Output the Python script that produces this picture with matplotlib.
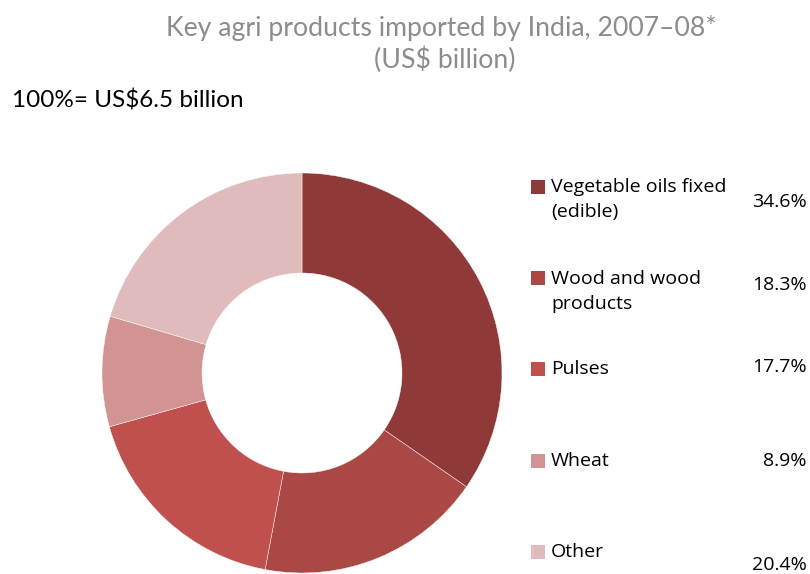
import matplotlib.pyplot as plt
from matplotlib.patches import Rectangle

# data
labels = ['Vegetable oils fixed\n(edible)', 'Wood and wood\nproducts', 'Pulses', 'Wheat', 'Other']
shares = [34.6, 18.3, 17.7, 8.9, 20.4]
pct_labels = ['34.6%', '18.3%', '17.7%', '8.9%', '20.4%']
colors = ['#8F3A38', '#AA4846', '#C0504D', '#D29393', '#E0BBBB']

W, H = 810, 574
fig = plt.figure(figsize=(W / 100, H / 100), dpi=100)
fig.patch.set_facecolor('white')

# donut
cx, cy, r = 302, 373, 200
ax = fig.add_axes([(cx - r) / W, (H - cy - r) / H, 2 * r / W, 2 * r / H])
ax.pie(shares, colors=colors, startangle=90, counterclock=False, radius=1,
       wedgeprops=dict(width=0.5, edgecolor='white', linewidth=0.3))
ax.set_xlim(-1, 1)
ax.set_ylim(-1, 1)
ax.set_aspect('equal')
ax.axis('off')

# titles
fig.text(441 / W, 1 - 28 / H, 'Key agri products imported by India, 2007\u201308*',
         ha='center', va='center', fontsize=19.2, color='#8C8C8C', family='Lato')
fig.text(445 / W, 1 - 60 / H, '(US$ billion)',
         ha='center', va='center', fontsize=19.2, color='#8C8C8C', family='Lato')
fig.text(12 / W, 1 - 101 / H, '100%= US$6.5 billion',
         ha='left', va='center', fontsize=17.5, color='black', family='Lato')

# legend
text_y = [200, 291, 369, 461, 552]
pct_y = [202, 285, 367, 461, 565]
for lab, col, ty, pct, py in zip(labels, colors, text_y, pct_labels, pct_y):
    first_line_y = ty - 13 if '\n' in lab else ty
    fig.patches.append(Rectangle((531 / W, 1 - (first_line_y + 7) / H), 14 / W, 14 / H,
                                 transform=fig.transFigure, facecolor=col, edgecolor='none'))
    fig.text(551 / W, 1 - ty / H, lab, ha='left', va='center', fontsize=14,
             color='black', family='Open Sans', linespacing=1.5)
    fig.text(807 / W, 1 - py / H, pct, ha='right', va='center', fontsize=14,
             color='black', family='Open Sans')

fig.savefig('out.png', dpi=100)
